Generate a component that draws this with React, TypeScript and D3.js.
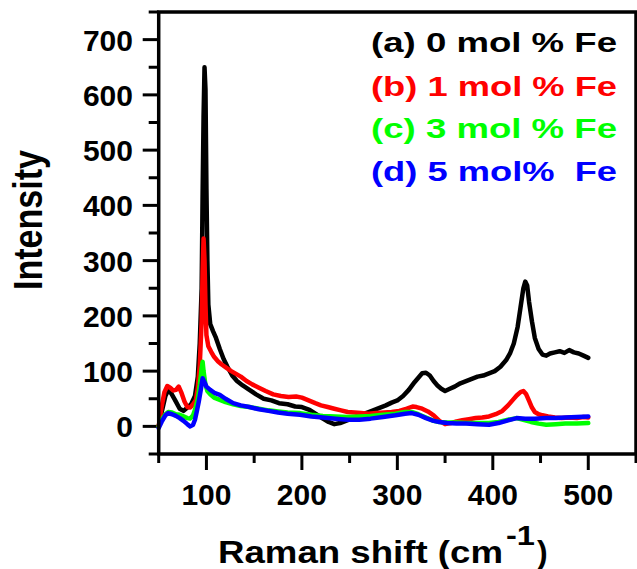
import { useEffect, useRef } from "react";
import * as d3 from "d3";

type Pt = [number, number];

// Raman shift (cm-1), intensity
const series0Fe: Pt[] = [
  [50, 0], [53, 25], [57, 55], [60, 66], [63, 60], [67, 48], [72, 32], [76, 28], [80, 34], [84, 40],
  [88, 55], [91, 90], [93, 150], [95, 250], [96, 420], [97, 560], [98, 650], [99, 610], [100, 430],
  [101, 300], [102, 220], [104, 185], [107, 172], [110, 160], [114, 140], [118, 122], [122, 108],
  [127, 92], [132, 82], [138, 74], [145, 66], [152, 58], [160, 50], [168, 47], [176, 42], [185, 40],
  [193, 36], [200, 35], [208, 30], [215, 22], [222, 14], [228, 8], [234, 4], [240, 6], [246, 10],
  [252, 14], [258, 18], [264, 22], [270, 26], [276, 30], [282, 34], [288, 38], [294, 43], [300, 47],
  [306, 55], [312, 66], [318, 80], [322, 88], [326, 96], [330, 97], [334, 92], [338, 82], [342, 74],
  [346, 68], [350, 64], [355, 68], [360, 72], [366, 78], [372, 82], [378, 86], [384, 90], [390, 92],
  [396, 96], [402, 100], [408, 108], [414, 120], [418, 132], [422, 150], [426, 180], [429, 215],
  [432, 250], [434, 262], [436, 255], [438, 225], [441, 190], [444, 160], [448, 140], [452, 130],
  [456, 128], [460, 132], [465, 134], [470, 136], [475, 133], [480, 138], [485, 134], [490, 132],
  [495, 128], [500, 124],
];

const series1Fe: Pt[] = [
  [50, 0], [53, 35], [56, 62], [59, 73], [62, 70], [65, 65], [68, 66], [71, 72], [74, 60], [77, 45],
  [80, 35], [83, 34], [86, 40], [89, 48], [91, 70], [93, 110], [95, 190], [96, 280], [97, 340],
  [98, 300], [99, 220], [100, 165], [102, 145], [105, 135], [108, 126], [112, 118], [116, 112],
  [121, 106], [126, 100], [131, 95], [136, 90], [142, 82], [148, 76], [155, 70], [162, 64], [170, 58],
  [178, 55], [186, 53], [194, 54], [200, 52], [207, 47], [214, 42], [220, 38], [227, 35], [234, 32],
  [241, 29], [248, 26], [255, 25], [262, 24], [270, 23], [278, 24], [286, 25], [294, 26], [302, 28],
  [310, 32], [316, 36], [320, 35], [326, 32], [332, 27], [338, 20], [344, 10], [350, 4], [356, 6],
  [362, 9], [368, 11], [375, 13], [382, 15], [389, 16], [396, 18], [403, 22], [410, 28], [416, 38],
  [421, 48], [425, 56], [429, 62], [432, 64], [435, 58], [438, 46], [441, 34], [444, 26], [448, 22],
  [452, 20], [458, 18], [465, 16], [472, 15], [480, 16], [488, 15], [495, 17], [500, 16],
];

const series3Fe: Pt[] = [
  [50, 0], [53, 12], [57, 22], [60, 26], [64, 25], [68, 22], [72, 21], [76, 18], [80, 15], [83, 14],
  [86, 20], [88, 30], [91, 50], [93, 75], [95, 105], [96, 117], [97, 100], [99, 75], [101, 64],
  [104, 58], [108, 52], [114, 48], [120, 44], [128, 40], [136, 37], [145, 35], [155, 32], [165, 29],
  [175, 27], [185, 25], [198, 24], [210, 21], [222, 19], [235, 18], [248, 17], [260, 18], [272, 19],
  [285, 21], [298, 23], [308, 26], [315, 26], [322, 22], [330, 16], [338, 10], [344, 8], [352, 7],
  [362, 7], [372, 6], [384, 6], [396, 6], [406, 8], [416, 12], [425, 15], [432, 12], [440, 8],
  [448, 5], [456, 3], [466, 4], [476, 5], [488, 5], [500, 6],
];

const series5Fe: Pt[] = [
  [50, -3], [53, 8], [57, 20], [60, 24], [64, 22], [68, 19], [72, 15], [76, 10], [80, 4], [83, 0],
  [86, 3], [88, 12], [90, 28], [92, 45], [94, 65], [96, 87], [98, 80], [100, 72], [104, 66], [109, 60],
  [114, 57], [120, 50], [128, 42], [136, 38], [145, 35], [155, 31], [165, 28], [175, 25], [185, 23],
  [198, 21], [210, 18], [222, 16], [235, 14], [248, 12], [260, 12], [272, 14], [285, 17], [298, 20],
  [308, 23], [315, 24], [322, 21], [330, 15], [338, 10], [344, 8], [352, 6], [362, 5], [372, 5],
  [384, 4], [396, 3], [406, 6], [416, 11], [425, 15], [434, 14], [444, 14], [456, 15], [466, 15],
  [476, 16], [488, 17], [500, 18],
];

const legendLabels = ["(a) 0 mol % Fe", "(b) 1 mol % Fe", "(c) 3 mol % Fe", "(d) 5 mol%  Fe"];
const colors = ["#000000", "#ff0000", "#00ff00", "#0000ff"];
const xMajorTicks = [100, 200, 300, 400, 500];
const xMinorTicks = [50, 150, 250, 350, 450, 550];
const yMajorTicks = [0, 100, 200, 300, 400, 500, 600, 700];
const yMinorTicks = [-50, 50, 150, 250, 350, 450, 550, 650, 750];

const FONT = "'Liberation Sans', Arial, sans-serif";

export default function App() {
  const svgRef = useRef<SVGSVGElement>(null);

  useEffect(() => {
    if (!svgRef.current) return;
    const svg = d3.select(svgRef.current);
    svg.selectAll("*").remove();

    const left = 158.7, right = 636, top = 12, bottom = 454;

    const x = d3.scaleLinear().domain([50, 550]).range([left, right]);
    const y = d3.scaleLinear().domain([-50, 750]).range([bottom, top]);

    // ticks
    const tickG = svg.append("g").attr("stroke", "#000").attr("stroke-width", 3);
    xMajorTicks.forEach(t => {
      tickG.append("line").attr("x1", x(t)).attr("x2", x(t)).attr("y1", bottom).attr("y2", bottom + 16);
    });
    xMinorTicks.forEach(t => {
      tickG.append("line").attr("x1", x(t)).attr("x2", x(t)).attr("y1", bottom).attr("y2", bottom + 9);
    });
    yMajorTicks.forEach(t => {
      tickG.append("line").attr("x1", left - 16).attr("x2", left).attr("y1", y(t)).attr("y2", y(t));
    });
    yMinorTicks.forEach(t => {
      tickG.append("line").attr("x1", left - 10).attr("x2", left).attr("y1", y(t)).attr("y2", y(t));
    });

    // tick labels
    svg.append("g")
      .selectAll("text")
      .data(xMajorTicks)
      .join("text")
      .attr("x", d => x(d))
      .attr("y", 505)
      .attr("text-anchor", "middle")
      .attr("font-family", FONT)
      .attr("font-weight", "bold")
      .attr("font-size", 30)
      .text(d => d);

    svg.append("g")
      .selectAll("text")
      .data(yMajorTicks)
      .join("text")
      .attr("x", 133)
      .attr("y", d => y(d) + 11)
      .attr("text-anchor", "end")
      .attr("font-family", FONT)
      .attr("font-weight", "bold")
      .attr("font-size", 30)
      .text(d => d);

    // curves
    const line = d3.line<Pt>()
      .x(d => x(d[0]))
      .y(d => y(d[1]))
      .curve(d3.curveLinear);

    [series0Fe, series1Fe, series3Fe, series5Fe].forEach((s, i) => {
      svg.append("path")
        .attr("d", line(s))
        .attr("fill", "none")
        .attr("stroke", colors[i])
        .attr("stroke-width", 4.5)
        .attr("stroke-linejoin", "round")
        .attr("stroke-linecap", "round");
    });

    // frame
    svg.append("rect")
      .attr("x", left)
      .attr("y", top)
      .attr("width", right - left)
      .attr("height", bottom - top)
      .attr("fill", "none")
      .attr("stroke", "#000")
      .attr("stroke-width", 3.5);

    // legend
    const legendY = [52, 96, 138, 181];
    legendLabels.forEach((lab, i) => {
      svg.append("text")
        .attr("x", 371)
        .attr("y", legendY[i])
        .attr("font-family", FONT)
        .attr("font-weight", "bold")
        .attr("font-size", 28)
        .attr("fill", colors[i])
        .attr("textLength", 246)
        .attr("lengthAdjust", "spacingAndGlyphs")
        .style("white-space", "pre")
        .text(lab);
    });

    // axis titles
    const title = svg.append("g")
      .attr("font-family", FONT)
      .attr("font-weight", "bold")
      .attr("fill", "#000");
    title.append("text")
      .attr("x", 218)
      .attr("y", 563)
      .attr("font-size", 32)
      .attr("textLength", 285)
      .attr("lengthAdjust", "spacingAndGlyphs")
      .text("Raman shift (cm");
    title.append("text")
      .attr("x", 506)
      .attr("y", 545)
      .attr("font-size", 27)
      .attr("textLength", 29)
      .attr("lengthAdjust", "spacingAndGlyphs")
      .text("-1");
    title.append("text")
      .attr("x", 537)
      .attr("y", 563)
      .attr("font-size", 32)
      .text(")");

    svg.append("text")
      .attr("transform", "translate(42,220) scale(1.25,1) rotate(-90)")
      .attr("text-anchor", "middle")
      .attr("font-family", FONT)
      .attr("font-weight", "bold")
      .attr("font-size", 32)
      .attr("textLength", 140)
      .attr("lengthAdjust", "spacingAndGlyphs")
      .text("Intensity");
  }, []);

  return (
    <svg
      ref={svgRef}
      width={637}
      height={569}
      style={{ position: "absolute", left: 0, top: 0, background: "#fff" }}
    />
  );
}
